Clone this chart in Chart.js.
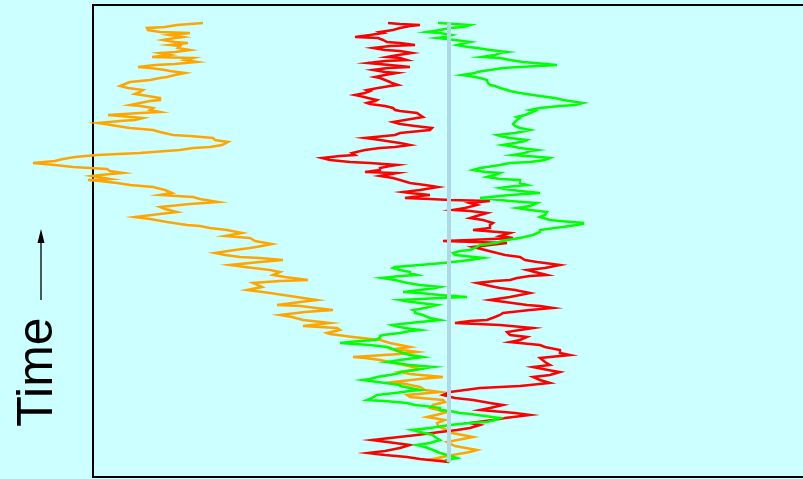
<!DOCTYPE html>
<html>
<head>
<meta charset="utf-8">
<script src="https://cdn.jsdelivr.net/npm/chart.js@4"></script>
<style>
  html, body { margin: 0; padding: 0; background: #ccffff; overflow: hidden; }
  #wrap { width: 803px; height: 479px; position: relative; }
</style>
</head>
<body>
<div id="wrap"><canvas id="walks"></canvas></div>
<script>
// Three random walks: each entry is [time step, position]
const orangeWalk = [[0,1],[3,-16],[6,-2],[10,21],[12,28],[16,6],[20,-2],[25,24],[29,3],[32,-2],[36,-11],[39,-12],[42,-4],[45,-22],[48,-9],[50,-2],[54,-19],[57,-16],[60,-4],[62,-6],[65,-39],[67,-42],[70,-9],[72,-24],[75,-29],[78,-44],[80,-56],[83,-29],[85,-6],[88,-39],[90,-49],[93,-29],[95,-36],[99,-54],[102,-69],[104,-84],[105,-96],[108,-49],[110,-32],[113,-54],[115,-39],[119,-59],[122,-69],[125,-96],[128,-119],[129,-122],[132,-109],[134,-112],[136,-146],[139,-119],[142,-146],[145,-157],[147,-169],[150,-144],[152,-116],[156,-149],[157,-172],[160,-149],[162,-132],[166,-159],[169,-179],[172,-202],[175,-187],[179,-196],[181,-169],[182,-141],[185,-164],[187,-176],[190,-169],[192,-179],[195,-204],[197,-219],[200,-189],[202,-166],[204,-189],[205,-209],[207,-224],[209,-234],[212,-214],[214,-199],[216,-187],[218,-177],[221,-194],[224,-199],[226,-224],[229,-207],[232,-222],[234,-239],[236,-249],[237,-262],[240,-282],[243,-299],[245,-314],[248,-289],[250,-272],[253,-284],[255,-289],[258,-259],[260,-231],[263,-249],[265,-256],[267,-289],[269,-277],[272,-284],[275,-296],[277,-319],[279,-332],[281,-349],[282,-361],[283,-339],[286,-357],[287,-349],[289,-326],[291,-339],[293,-342],[295,-376],[297,-394],[299,-416],[301,-394],[303,-386],[305,-374],[307,-352],[309,-309],[310,-296],[312,-269],[314,-256],[315,-239],[317,-227],[320,-221],[322,-234],[324,-236],[326,-259],[327,-276],[330,-289],[332,-296],[334,-319],[336,-332],[338,-344],[339,-351],[341,-329],[342,-314],[344,-306],[346,-329],[347,-341],[349,-309],[350,-289],[352,-299],[354,-296],[356,-309],[357,-319],[359,-309],[361,-299],[362,-289],[364,-289],[366,-301],[368,-314],[370,-309],[372,-306],[374,-321],[376,-329],[378,-324],[380,-319],[382,-299],[384,-289],[385,-282],[387,-274],[389,-264],[391,-279],[392,-284],[394,-299],[395,-311],[397,-294],[398,-274],[400,-252],[402,-264],[404,-256],[405,-297],[407,-279],[409,-289],[410,-274],[412,-259],[414,-271],[416,-269],[417,-279],[419,-261],[420,-274],[422,-286],[424,-274],[425,-266],[427,-279],[429,-259],[430,-289],[432,-301],[434,-302],[435,-284],[437,-272],[438,-259],[439,-246]];

const redWalk = [[0,0],[3,-29],[5,-42],[7,-64],[9,-81],[11,-64],[12,-59],[14,-49],[17,-39],[19,-54],[22,-77],[24,-59],[27,-32],[30,-9],[32,8],[34,21],[37,31],[39,21],[42,44],[44,56],[47,81],[49,66],[52,31],[54,41],[57,54],[59,41],[62,24],[64,6],[67,-6],[69,-1],[70,1],[72,16],[74,31],[76,71],[79,101],[82,91],[85,84],[87,101],[90,111],[92,99],[95,84],[97,101],[100,96],[104,91],[107,121],[109,111],[112,111],[115,96],[117,91],[120,61],[122,71],[125,78],[127,61],[130,58],[132,71],[134,84],[137,51],[139,6],[141,21],[142,38],[145,46],[147,51],[149,54],[152,81],[154,104],[156,91],[157,78],[160,56],[162,41],[165,61],[167,71],[169,81],[172,66],[174,51],[176,41],[179,28],[181,46],[182,61],[184,68],[186,81],[187,98],[190,86],[192,78],[194,96],[197,111],[199,96],[200,88],[202,76],[205,71],[207,56],[209,48],[212,36],[215,24],[217,41],[219,58],[220,26],[221,-6],[222,21],[224,64],[226,51],[229,61],[232,24],[234,41],[237,41],[239,44],[242,34],[244,21],[247,31],[249,38],[251,21],[252,4],[254,16],[257,28],[259,21],[261,41],[262,1],[263,-19],[264,-44],[266,-29],[267,-19],[269,-39],[270,-46],[272,-29],[275,-11],[277,-24],[279,-39],[282,-49],[284,-56],[286,-69],[289,-52],[290,-84],[292,-69],[294,-69],[296,-59],[297,-52],[299,-79],[300,-99],[302,-119],[304,-127],[306,-109],[307,-94],[309,-97],[312,-84],[314,-69],[315,-54],[317,-39],[319,-49],[320,-56],[322,-69],[324,-84],[326,-64],[327,-54],[329,-49],[331,-29],[332,-19],[334,-17],[336,-34],[338,-49],[340,-56],[342,-44],[345,-26],[347,-29],[349,-32],[351,-49],[352,-54],[354,-56],[356,-64],[358,-79],[359,-82],[361,-74],[362,-72],[364,-81],[366,-89],[367,-94],[369,-84],[371,-79],[372,-82],[374,-71],[376,-59],[377,-51],[379,-57],[380,-59],[382,-64],[384,-69],[385,-74],[387,-64],[389,-52],[390,-64],[392,-76],[394,-61],[395,-39],[397,-59],[399,-81],[401,-64],[402,-42],[404,-49],[405,-62],[407,-51],[409,-37],[411,-49],[412,-64],[414,-76],[416,-59],[417,-34],[419,-49],[420,-62],[422,-66],[424,-71],[425,-94],[427,-79],[429,-66],[430,-69],[432,-56],[434,-49],[436,-39],[437,-29],[438,-49],[439,-61]];

const greenWalk = [[0,0],[2,-2],[4,8],[7,-2],[9,-9],[12,-16],[15,-24],[17,-32],[19,-19],[22,-9],[25,-14],[27,-16],[30,-29],[32,-37],[34,-19],[37,1],[39,21],[40,38],[42,46],[44,51],[46,36],[48,21],[49,11],[51,1],[52,-9],[54,-9],[56,-24],[57,-34],[59,-42],[61,-64],[62,-82],[64,-77],[67,-72],[69,-54],[71,-39],[72,-29],[74,-39],[76,-49],[77,-49],[79,-64],[82,-86],[83,-79],[85,-72],[87,-59],[89,-49],[90,-49],[92,-34],[94,-24],[95,-16],[97,-39],[99,-54],[100,-62],[102,-49],[104,-34],[105,-26],[107,-39],[110,-49],[112,-54],[114,-59],[115,-62],[117,-79],[119,-109],[121,-89],[122,-74],[124,-69],[126,-69],[127,-66],[129,-49],[131,-39],[132,-29],[134,-44],[136,-54],[137,-57],[139,-39],[141,-19],[142,-9],[144,-19],[146,-24],[147,-26],[149,-34],[151,-34],[152,-36],[154,-24],[156,-16],[157,-12],[159,-29],[161,-44],[162,-49],[164,-9],[165,18],[167,-9],[169,-29],[170,-46],[172,-29],[174,-14],[175,-9],[177,-29],[179,-41],[180,-46],[182,-54],[184,-67],[186,-49],[187,-32],[189,-39],[190,-39],[192,-49],[194,-56],[195,-54],[197,-29],[199,-6],[200,4],[202,21],[204,34],[206,16],[207,6],[209,4],[211,11],[212,21],[214,26],[217,31],[219,46],[222,58],[224,71],[227,84],[230,91],[232,91],[234,106],[236,121],[238,134],[239,134],[241,111],[242,101],[245,91],[247,96],[250,98],[252,81],[254,68],[256,81],[259,88],[261,61],[263,41],[264,31],[266,51],[267,61],[269,91],[271,71],[273,56],[274,51],[276,66],[277,78],[279,71],[282,71],[283,51],[285,38],[287,46],[289,51],[290,36],[292,24],[294,31],[295,38],[297,51],[299,61],[300,81],[302,96],[304,101],[305,91],[307,64],[309,76],[311,81],[312,88],[314,71],[316,61],[317,54],[319,66],[321,76],[322,78],[324,61],[326,51],[327,48],[329,66],[331,76],[332,81],[334,71],[336,66],[338,64],[340,66],[342,68],[344,71],[345,68],[347,76],[349,81],[351,86],[352,81],[354,91],[356,111],[357,126],[359,134],[361,121],[362,114],[364,106],[366,91],[367,84],[369,71],[371,61],[372,58],[374,51],[376,46],[377,41],[379,39],[381,38],[382,38],[384,31],[386,21],[387,13],[389,26],[390,28],[392,41],[394,54],[395,71],[397,108],[399,86],[400,74],[402,61],[404,51],[405,33],[407,46],[409,51],[410,58],[412,41],[414,28],[415,19],[417,8],[419,16],[420,21],[422,6],[424,-12],[425,-4],[427,3],[429,-9],[430,-22],[432,-9],[434,1],[435,14],[437,21],[438,6],[439,-11]];

// Starting position marker, held over the whole run
const startLine = [[0,0],[439,0]];

const timeRange = [-15, 457];
const positionRange = [-356, 354];
const axisTitle = 'Time';

function toPoints(walk) {
  return walk.map(([t, p]) => ({ x: p, y: t }));
}

function walkDataset(walk, color, width) {
  return {
    data: toPoints(walk),
    borderColor: color,
    backgroundColor: color,
    borderWidth: width,
    showLine: true,
    pointRadius: 0,
    pointHoverRadius: 0,
    tension: 0,
    clip: false
  };
}

// Open frame (top, left, bottom) plus the rotated time label with its arrow
const framePlugin = {
  id: 'frame',
  beforeDatasetsDraw(chart) {
    const { ctx, chartArea: a } = chart;
    ctx.save();
    ctx.strokeStyle = '#000';
    ctx.lineWidth = 2;
    ctx.beginPath();
    ctx.moveTo(a.right + 20, a.top);
    ctx.lineTo(a.left, a.top);
    ctx.lineTo(a.left, a.bottom);
    ctx.lineTo(a.right + 20, a.bottom);
    ctx.stroke();
    ctx.restore();
  },
  afterDraw(chart) {
    const { ctx, chartArea: a } = chart;
    ctx.save();
    ctx.fillStyle = '#000';
    ctx.font = '50px "Liberation Sans", Arial, sans-serif';
    ctx.translate(a.left - 41, 372);
    ctx.rotate(-Math.PI / 2);
    ctx.textAlign = 'center';
    ctx.textBaseline = 'alphabetic';
    ctx.fillText(axisTitle, 0, 0);
    ctx.restore();

    const ax = a.left - 52;
    ctx.save();
    ctx.strokeStyle = '#000';
    ctx.fillStyle = '#000';
    ctx.lineWidth = 1.3;
    ctx.beginPath();
    ctx.moveTo(ax, 300);
    ctx.lineTo(ax, 240);
    ctx.stroke();
    ctx.beginPath();
    ctx.moveTo(ax, 229);
    ctx.lineTo(ax - 3.5, 243);
    ctx.lineTo(ax + 3.5, 243);
    ctx.closePath();
    ctx.fill();
    ctx.restore();
  }
};

new Chart(document.getElementById('walks'), {
  type: 'scatter',
  data: {
    datasets: [
      walkDataset(startLine, '#add8e6', 4),
      walkDataset(greenWalk, '#00ff00', 2.5),
      walkDataset(redWalk, '#ff0000', 2.5),
      walkDataset(orangeWalk, '#ffa500', 2.5)
    ]
  },
  options: {
    responsive: true,
    maintainAspectRatio: false,
    animation: false,
    layout: { padding: { left: 93, top: 5, right: 0, bottom: 2 } },
    plugins: { legend: { display: false }, tooltip: { enabled: false } },
    events: [],
    scales: {
      x: { type: 'linear', min: positionRange[0], max: positionRange[1], display: false },
      y: { type: 'linear', min: timeRange[0], max: timeRange[1], display: false }
    }
  },
  plugins: [framePlugin]
});
</script>
</body>
</html>
